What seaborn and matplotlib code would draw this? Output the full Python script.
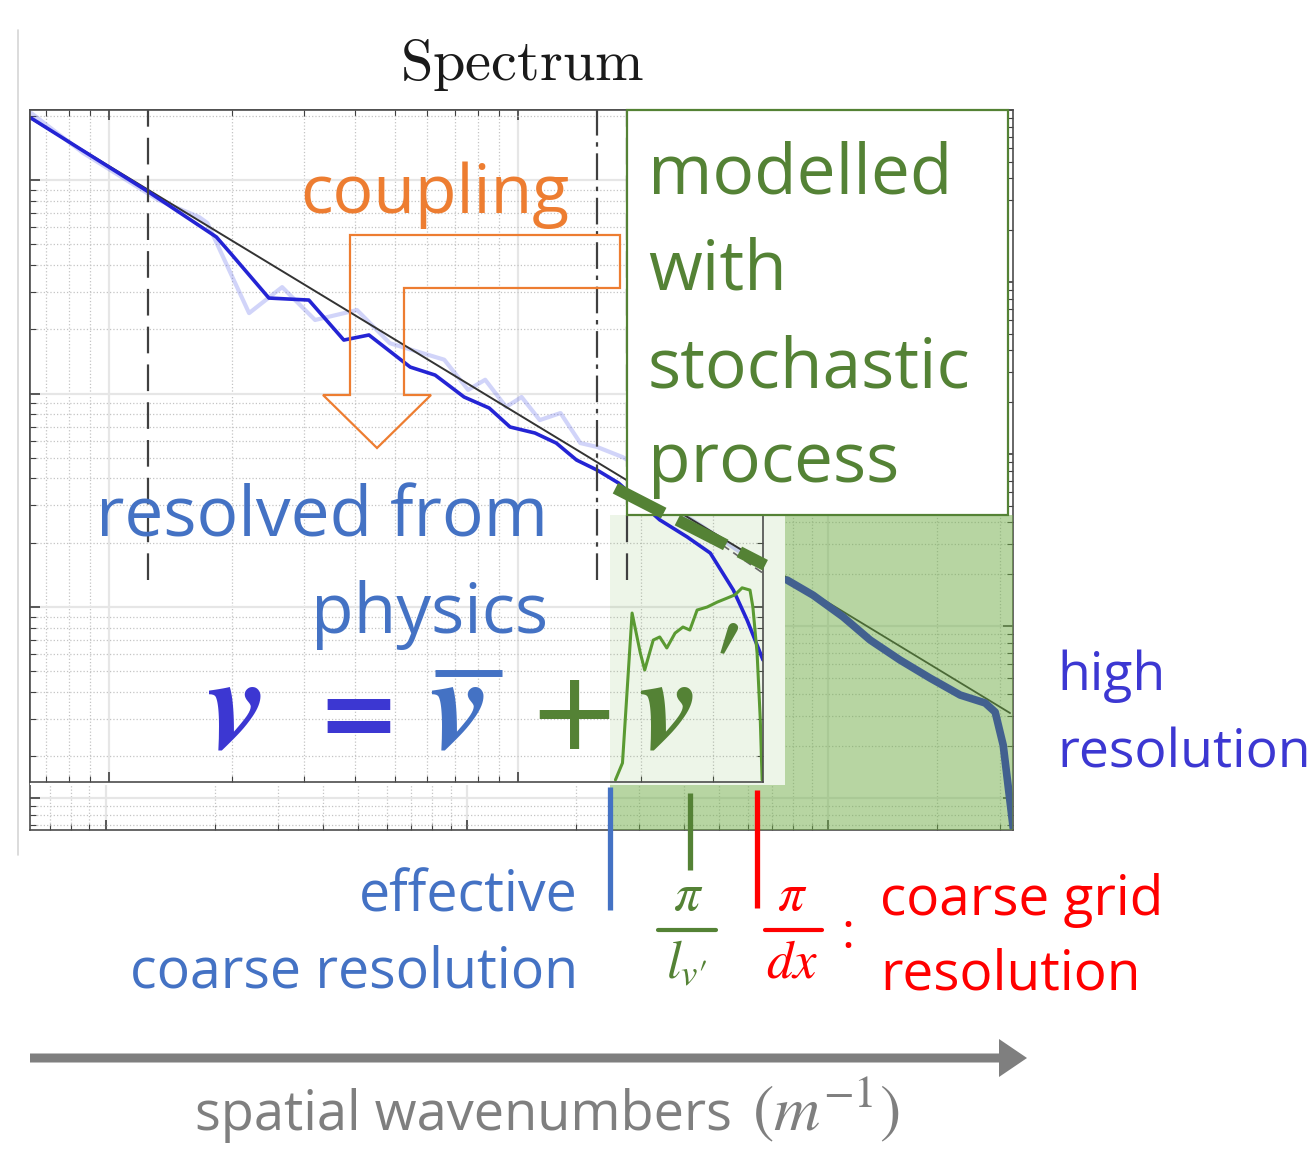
import matplotlib
matplotlib.use("Agg")
import matplotlib.pyplot as plt
import seaborn as sns
from matplotlib.patches import Rectangle, Polygon, FancyArrow
from matplotlib.lines import Line2D

# ---- coarse run (left inset): wavenumber k, energy E ----
coarse_k = [0.645, 1.25, 1.83, 2.00, 2.46, 3.08, 3.75, 4.32, 5.45, 6.27, 7.38, 8.50,
            9.56, 11.0, 12.4, 13.9, 15.6, 17.6, 22.2, 25.9, 29.5, 33.6, 36.3, 39.7]
coarse_E = [0.195, 0.0879, 0.0541, 0.0445, 0.0280, 0.0274, 0.0178, 0.0188, 0.0133,
            0.0122, 0.00963, 0.00855, 0.00697, 0.00653, 0.00586, 0.00488, 0.00438,
            0.00381, 0.00256, 0.00213, 0.00179, 0.00120, 0.000869, 0.000565]

noisy_k = [0.645, 0.864, 1.32, 1.66, 1.74, 2.20, 2.65, 3.19, 4.04, 4.86, 6.60, 7.55,
           8.31, 9.35, 10.2, 11.3, 12.7, 14.2, 15.6, 18.0, 20.4, 22.2, 27.9, 34.9, 39.7]
noisy_E = [0.206, 0.134, 0.0806, 0.0671, 0.0629, 0.0238, 0.0315, 0.0221, 0.0246, 0.0172,
           0.0144, 0.0104, 0.0116, 0.00865, 0.00963, 0.00751, 0.00810, 0.00586, 0.00562,
           0.00504, 0.00438, 0.00317, 0.00242, 0.00181, 0.00156]

ref_k = [0.641, 39.7]
ref_E = [0.195, 0.00161]

vprime_k = [17.3, 18.0, 18.5, 19.0, 19.9, 20.4, 21.4, 22.2, 23.1, 24.2, 25.3, 26.3,
            27.4, 29.0, 30.7, 32.4, 33.9, 35.3, 36.9, 37.5, 38.4, 39.1, 39.5]
vprime_E = [1.55e-4, 1.86e-4, 4.22e-4, 9.37e-4, 6.09e-4, 5.07e-4, 7.00e-4, 7.24e-4,
            6.43e-4, 7.55e-4, 8.06e-4, 7.80e-4, 9.68e-4, 1.00e-3, 1.055e-3, 1.10e-3,
            1.14e-3, 1.23e-3, 1.20e-3, 1.00e-3, 6.09e-4, 2.96e-4, 1.55e-4]

model_k = [17.3, 40.2]
model_E = [3.6e-3, 1.57e-3]
tail_k = [27.9, 39.7]
tail_E = [2.30e-3, 1.44e-3]
filter_k = [1.246, 15.61, 18.48]

# ---- high resolution run ----
hires_k = [77.0, 90.9, 110.0, 130.7, 158.2, 191.6, 232.1, 272.2, 290.1, 305.3, 325.5]
hires_E = [1.85e-3, 1.51e-3, 1.13e-3, 8.29e-4, 6.34e-4, 4.98e-4, 3.97e-4, 3.57e-4,
           3.16e-4, 2.03e-4, 6.69e-5]
hires_ref_k = [0.616, 319]
hires_ref_E = [0.899, 3.12e-4]
k_eff, k_lv, k_dx = 24.9, 41.5, 63.6

BLUE = "#4472C4"
DBLUE = "#3C37D2"
GREEN = "#548235"
ORANGE = "#ED7D31"
RED = "#FF0000"
GRAY = "#7F7F7F"

sns.set_theme(style="ticks")
plt.rcParams["font.family"] = ["Open Sans", "DejaVu Sans"]
plt.rcParams["mathtext.fontset"] = "stix"

W, H = 1309, 1152
fig = plt.figure(figsize=(W / 100, H / 100), dpi=100)


def fx(px):
    return px / W


def fy(py):
    return 1 - py / H


def rect(l, t, r, b):
    return [l / W, 1 - b / H, (r - l) / W, (b - t) / H]


def style_axes(ax):
    ax.set_xscale("log")
    ax.set_yscale("log")
    ax.grid(which="minor", ls=":", lw=0.9, color="#c4c4c4")
    ax.grid(which="major", ls="-", lw=1.6, color="#e6e6e6")
    ax.tick_params(which="both", direction="in", top=True, right=True,
                   labelbottom=False, labelleft=False, color="0.25")
    ax.tick_params(which="major", length=7, width=1.2)
    ax.tick_params(which="minor", length=4, width=0.8)
    for s in ax.spines.values():
        s.set_color("0.3")
        s.set_linewidth(1.2)


# high resolution spectrum (full width, behind)
ax_hr = fig.add_axes(rect(30, 110, 1013, 830))
ax_hr.set_zorder(0)
sns.lineplot(x=hires_ref_k, y=hires_ref_E, ax=ax_hr, color="0.15", lw=1.3, sort=False)
sns.lineplot(x=hires_k, y=hires_E, ax=ax_hr, color="#1414d8", lw=5.5, sort=False)
style_axes(ax_hr)
ax_hr.set_xlim(0.616, 325)
ax_hr.set_ylim(6.52e-5, 1)
ax_hr.axvspan(k_eff, 325, ymin=0, ymax=0.4375, color="#70AD47", alpha=0.5, lw=0, zorder=5)
for k, col, y0, y1 in [(k_eff, BLUE, -0.111, 0.06), (k_lv, GREEN, -0.056, 0.051),
                       (k_dx, RED, -0.108, 0.056)]:
    ax_hr.axvline(k, ymin=y0, ymax=y1, color=col, lw=3.8, clip_on=False,
                  zorder=6, solid_capstyle="butt")

# coarse spectrum (inset on top)
ax_lr = fig.add_axes(rect(30, 110, 763, 782))
ax_lr.set_zorder(1)
ax_lr.set_facecolor("none")
ax_lr.add_patch(Rectangle((fx(30), fy(785)), fx(785) - fx(30), (785 - 110) / H,
                          transform=fig.transFigure, facecolor="white", lw=0,
                          zorder=0.1, clip_on=False))
ax_lr.add_patch(Rectangle((fx(610), fy(785)), fx(785) - fx(610), (785 - 515) / H,
                          transform=fig.transFigure, facecolor="#70AD47", alpha=0.12,
                          lw=0, zorder=0.6, clip_on=False))
sns.lineplot(x=noisy_k, y=noisy_E, ax=ax_lr, color="#4a55e8", alpha=0.25, lw=3, sort=False)
sns.lineplot(x=ref_k, y=ref_E, ax=ax_lr, color="0.2", lw=1.4, sort=False)
sns.lineplot(x=coarse_k, y=coarse_E, ax=ax_lr, color="#2424d4", lw=2.6, sort=False)
sns.lineplot(x=vprime_k, y=vprime_E, ax=ax_lr, color="#5a9a32", lw=2.2, sort=False)
ax_lr.plot(tail_k, tail_E, color="0.4", lw=1.2, ls=(0, (5, 3)), clip_on=False)
style_axes(ax_lr)
ax_lr.set_xlim(0.641, 39.7)
ax_lr.set_ylim(1.515e-4, 0.2128)
ax_lr.axvline(filter_k[0], ymin=0.30, ymax=1, color="0.25", lw=1.6, ls=(0, (12, 5)))
ax_lr.axvline(filter_k[1], ymin=0.30, ymax=1, color="0.25", lw=1.6, ls=(0, (12, 3, 2, 3)))
ax_lr.axvline(filter_k[2], ymin=0.30, ymax=1, color="0.25", lw=1.6, ls=(0, (12, 5)))
ax_lr.add_patch(Rectangle((fx(627), fy(515)), fx(1008) - fx(627), (515 - 110) / H,
                          transform=fig.transFigure, facecolor="white", edgecolor=GREEN,
                          lw=1.6, zorder=2.6, clip_on=False))
ax_lr.plot(model_k, model_E, color=GREEN, lw=8.5, ls=(0, (4.6, 1.3)),
           dash_capstyle="butt", clip_on=False, zorder=2.7)

# orange "coupling" arrow outline
arrow_pts = [(350, 235), (620, 235), (620, 288), (404, 288), (404, 395), (431, 395),
             (377, 448), (323, 395), (350, 395)]
fig.patches.append(Polygon([(fx(x), fy(y)) for x, y in arrow_pts], closed=True,
                           transform=fig.transFigure, fill=False, edgecolor=ORANGE,
                           lw=1.6, zorder=3))

# left border line of the slide picture
fig.add_artist(Line2D([fx(18), fx(18)], [fy(30), fy(855)], color="#d6d6d6", lw=1.2))

# texts
fig.text(fx(522), fy(80), r"$\mathrm{Spectrum}$", math_fontfamily="cm", fontsize=42,
         ha="center", va="baseline", color="0.1")
fig.text(fx(300), fy(213), "coupling", fontsize=49, color=ORANGE, va="baseline", zorder=5)
for s, yb in [("modelled", 193), ("with", 290), ("stochastic", 388), ("process", 482)]:
    fig.text(fx(648), fy(yb), s, fontsize=50, color=GREEN, va="baseline", zorder=5)
fig.text(fx(548), fy(537), "resolved from", fontsize=50, color=BLUE, ha="right",
         va="baseline", zorder=5)
fig.text(fx(548), fy(633), "physics", fontsize=50, color=BLUE, ha="right",
         va="baseline", zorder=5)
fig.text(fx(1057), fy(690), "high", fontsize=38.5, color=DBLUE, va="baseline")
fig.text(fx(1057), fy(768), "resolution", fontsize=38.5, color=DBLUE, va="baseline")
fig.text(fx(578), fy(912), "effective", fontsize=40, color=BLUE, ha="right", va="baseline")
fig.text(fx(578), fy(988), "coarse resolution", fontsize=40, color=BLUE, ha="right",
         va="baseline")
fig.text(fx(880), fy(915), "coarse grid", fontsize=39.5, color=RED, va="baseline")
fig.text(fx(880), fy(990), "resolution", fontsize=39.5, color=RED, va="baseline")
fig.text(fx(848), fy(948), ":", fontsize=36, color=RED, ha="center", va="baseline")

# fractions
fig.text(fx(688), fy(910), r"$\pi$", fontsize=38, color=GREEN, ha="center", va="baseline")
fig.add_artist(Line2D([fx(658), fx(716)], [fy(930), fy(930)], color=GREEN, lw=3))
fig.text(fx(686), fy(978), r"$l_{v\prime}$", fontsize=38, color=GREEN, ha="center",
         va="baseline")
fig.text(fx(792), fy(910), r"$\pi$", fontsize=38, color=RED, ha="center", va="baseline")
fig.add_artist(Line2D([fx(765), fx(822)], [fy(930), fy(930)], color=RED, lw=3))
fig.text(fx(792), fy(978), r"$dx$", fontsize=38, color=RED, ha="center", va="baseline")

# v = v_bar + v'
eq = dict(fontsize=96, family="STIXGeneral", style="italic", weight="bold",
          va="baseline", zorder=5)
fig.text(fx(207), fy(748), "v", color=DBLUE, **eq)
fig.text(fx(358), fy(747), "=", fontsize=72, family="DejaVu Sans", weight="bold",
         color=DBLUE, ha="center", va="baseline", zorder=5)
fig.text(fx(430), fy(748), "v", color=BLUE, **eq)
fig.add_artist(Line2D([fx(435), fx(502)], [fy(673), fy(673)], color=BLUE, lw=5,
                      solid_capstyle="butt", zorder=5))
fig.text(fx(574), fy(749), "+", fontsize=80, family="DejaVu Sans", color=GREEN,
         ha="center", va="baseline", zorder=5)
fig.text(fx(639), fy(748), "v", color=GREEN, **eq)
fig.text(fx(712), fy(702), "\u2032", fontsize=80, family="STIXGeneral", weight="bold",
         color=GREEN, va="baseline", zorder=5)

# wavenumber arrow
fig.patches.append(FancyArrow(fx(30), fy(1058), fx(1027) - fx(30), 0, width=9 / H,
                              head_width=38 / H, head_length=28 / W,
                              length_includes_head=True, color=GRAY, lw=0,
                              transform=fig.transFigure))
fig.text(fx(195), fy(1130), "spatial wavenumbers", fontsize=39, color=GRAY, va="baseline")
fig.text(fx(752), fy(1130), r"$\left(m^{-1}\right)$", fontsize=46, color=GRAY,
         va="baseline")

fig.savefig("out.png", dpi=100)
